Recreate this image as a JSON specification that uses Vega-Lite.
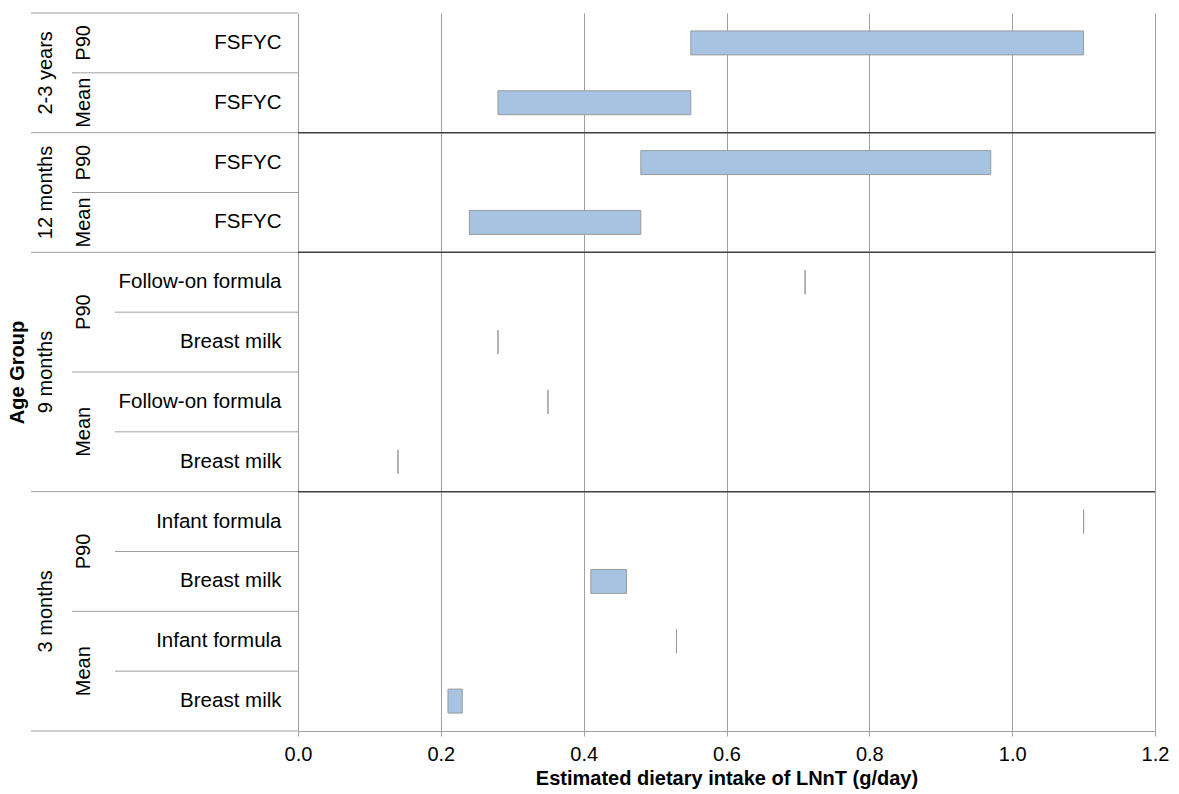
{
  "$schema": "https://vega.github.io/schema/vega-lite/v6.json",
  "padding": {"left": 7, "top": 12, "right": 4, "bottom": 2},
  "config": {"font": "Liberation Sans", "view": {"stroke": null}},
  "spacing": 0,
  "bounds": "flush",
  "data": {"values": [
    {"age": "2-3 years", "stat": "P90", "source": "FSFYC", "lo": 0.55, "hi": 1.10},
    {"age": "2-3 years", "stat": "Mean", "source": "FSFYC", "lo": 0.28, "hi": 0.55},
    {"age": "12 months", "stat": "P90", "source": "FSFYC", "lo": 0.48, "hi": 0.97},
    {"age": "12 months", "stat": "Mean", "source": "FSFYC", "lo": 0.24, "hi": 0.48},
    {"age": "9 months", "stat": "P90", "source": "Follow-on formula", "lo": 0.71, "hi": 0.71},
    {"age": "9 months", "stat": "P90", "source": "Breast milk", "lo": 0.28, "hi": 0.28},
    {"age": "9 months", "stat": "Mean", "source": "Follow-on formula", "lo": 0.35, "hi": 0.35},
    {"age": "9 months", "stat": "Mean", "source": "Breast milk", "lo": 0.14, "hi": 0.14},
    {"age": "3 months", "stat": "P90", "source": "Infant formula", "lo": 1.10, "hi": 1.10},
    {"age": "3 months", "stat": "P90", "source": "Breast milk", "lo": 0.41, "hi": 0.46},
    {"age": "3 months", "stat": "Mean", "source": "Infant formula", "lo": 0.53, "hi": 0.53},
    {"age": "3 months", "stat": "Mean", "source": "Breast milk", "lo": 0.21, "hi": 0.23}
  ]},
  "transform": [
    {"window": [{"op": "row_number", "as": "idx"}]},
    {"window": [{"op": "row_number", "as": "gi"}], "groupby": ["age"]},
    {"window": [{"op": "row_number", "as": "si"}], "groupby": ["age", "stat"]},
    {"joinaggregate": [{"op": "count", "as": "n"}]},
    {"calculate": "datum.age + '|' + datum.stat + '|' + datum.source", "as": "key"}
  ],
  "hconcat": [
    {
      "width": 41,
      "height": 718,
      "layer": [
        {
          "mark": {"type": "rule", "color": "#9e9e9e", "strokeWidth": 1},
          "encoding": {
            "y": {"field": "key", "type": "ordinal", "sort": {"field": "idx", "op": "min"}, "bandPosition": 0, "scale": {"type": "band", "paddingInner": 0, "paddingOuter": 0}, "axis": null},
            "strokeOpacity": {"condition": {"test": "datum.gi == 1", "value": 1}, "value": 0}
          }
        },
        {
          "mark": {"type": "rule", "color": "#9e9e9e", "strokeWidth": 1},
          "encoding": {
            "y": {"field": "key", "type": "ordinal", "sort": {"field": "idx", "op": "min"}, "bandPosition": 1, "scale": {"type": "band", "paddingInner": 0, "paddingOuter": 0}, "axis": null},
            "strokeOpacity": {"condition": {"test": "datum.idx == datum.n", "value": 1}, "value": 0}
          }
        },
        {
          "mark": {"type": "text", "angle": 270, "fontSize": 20, "baseline": "alphabetic", "align": "center", "color": "#000000"},
          "encoding": {
            "y": {"aggregate": "mean", "field": "idx", "type": "quantitative", "scale": {"domain": [0.5, 12.5], "reverse": true, "nice": false, "zero": false},
              "axis": {"orient": "left", "title": "Age Group", "labels": false, "ticks": false, "domain": false, "grid": false, "titleFontSize": 20, "titleFontWeight": "bold", "titlePadding": 4, "titleColor": "#000000"}},
            "text": {"field": "age"}
          }
        }
      ],
      "resolve": {"scale": {"y": "independent"}, "axis": {"y": "independent"}}
    },
    {
      "width": 43,
      "height": 718,
      "layer": [
        {
          "mark": {"type": "rule", "color": "#9e9e9e", "strokeWidth": 1},
          "encoding": {
            "y": {"field": "key", "type": "ordinal", "sort": {"field": "idx", "op": "min"}, "bandPosition": 0, "scale": {"type": "band", "paddingInner": 0, "paddingOuter": 0}, "axis": null},
            "strokeOpacity": {"condition": {"test": "datum.si == 1", "value": 1}, "value": 0}
          }
        },
        {
          "mark": {"type": "rule", "color": "#9e9e9e", "strokeWidth": 1},
          "encoding": {
            "y": {"field": "key", "type": "ordinal", "sort": {"field": "idx", "op": "min"}, "bandPosition": 1, "scale": {"type": "band", "paddingInner": 0, "paddingOuter": 0}, "axis": null},
            "strokeOpacity": {"condition": {"test": "datum.idx == datum.n", "value": 1}, "value": 0}
          }
        },
        {
          "mark": {"type": "text", "angle": 270, "fontSize": 20, "baseline": "bottom", "align": "center", "color": "#000000"},
          "encoding": {
            "y": {"aggregate": "mean", "field": "idx", "type": "quantitative", "scale": {"domain": [0.5, 12.5], "reverse": true, "nice": false, "zero": false}, "axis": null},
            "text": {"field": "stat"},
            "detail": {"field": "age"}
          }
        }
      ],
      "resolve": {"scale": {"y": "independent"}, "axis": {"y": "independent"}}
    },
    {
      "width": 183,
      "height": 718,
      "layer": [
        {
          "mark": {"type": "rule", "color": "#9e9e9e", "strokeWidth": 1},
          "encoding": {
            "y": {"field": "key", "type": "ordinal", "sort": {"field": "idx", "op": "min"}, "bandPosition": 0, "scale": {"type": "band", "paddingInner": 0, "paddingOuter": 0}, "axis": null}
          }
        },
        {
          "mark": {"type": "rule", "color": "#9e9e9e", "strokeWidth": 1},
          "encoding": {
            "y": {"field": "key", "type": "ordinal", "sort": {"field": "idx", "op": "min"}, "bandPosition": 1, "scale": {"type": "band", "paddingInner": 0, "paddingOuter": 0}, "axis": null},
            "strokeOpacity": {"condition": {"test": "datum.idx == datum.n", "value": 1}, "value": 0}
          }
        }
      ]
    },
    {
      "width": 857,
      "height": 718,
      "layer": [
        {
          "mark": {"type": "bar", "height": {"band": 0.4}, "fill": "#a6c4e1", "stroke": "#9a9a9a", "strokeWidth": 1},
          "encoding": {
            "y": {"field": "key", "type": "ordinal", "sort": {"field": "idx", "op": "min"}, "scale": {"type": "band", "paddingInner": 0, "paddingOuter": 0},
              "axis": {"orient": "left", "title": null, "domain": false, "grid": false, "ticks": false, "labelPadding": 17, "labelExpr": "split(datum.value, '|')[2]", "labelFontSize": 20.5, "labelColor": "#000000", "labelAlign": "right", "labelBaseline": "middle", "labelLimit": 0}},
            "x": {"field": "lo", "type": "quantitative", "title": "Estimated dietary intake of LNnT (g/day)", "scale": {"domain": [0, 1.2], "nice": false, "zero": false},
              "axis": {"values": [0, 0.2, 0.4, 0.6, 0.8, 1.0, 1.2], "format": ".1f", "grid": true, "gridColor": "#a0a0a0", "gridWidth": 1, "domainColor": "#a0a0a0", "tickColor": "#a0a0a0", "tickSize": 5, "labelFontSize": 20, "labelColor": "#000000", "labelPadding": 8, "labelFlush": false, "titleFontSize": 20, "titleFontWeight": "bold", "titleColor": "#000000", "titlePadding": 4}},
            "x2": {"field": "hi"}
          }
        },
        {
          "mark": {"type": "rule", "color": "#404040", "strokeWidth": 1.5},
          "encoding": {
            "y": {"field": "key", "type": "ordinal", "sort": {"field": "idx", "op": "min"}, "bandPosition": 0, "scale": {"type": "band", "paddingInner": 0, "paddingOuter": 0},
              "axis": {"orient": "left", "title": null, "domain": false, "grid": false, "ticks": false, "labelPadding": 17, "labelExpr": "split(datum.value, '|')[2]", "labelFontSize": 20.5, "labelColor": "#000000", "labelAlign": "right", "labelBaseline": "middle", "labelLimit": 0}},
            "strokeOpacity": {"condition": {"test": "datum.gi == 1 && datum.idx > 1", "value": 1}, "value": 0}
          }
        }
      ]
    }
  ]
}
